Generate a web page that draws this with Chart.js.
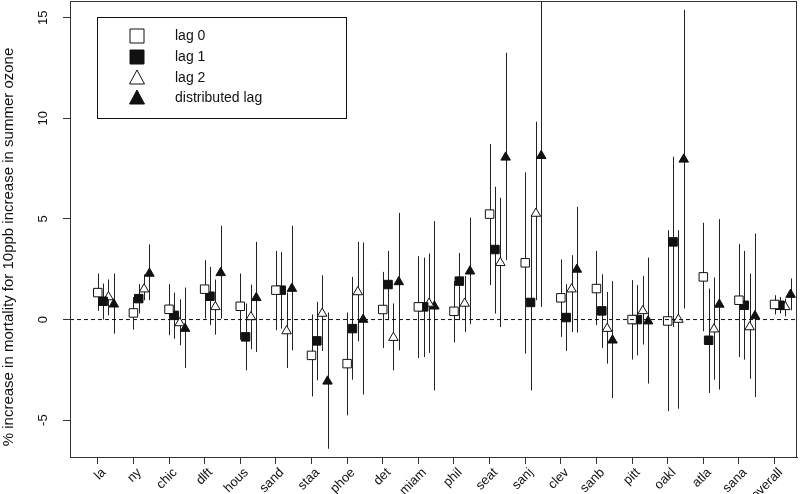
<!DOCTYPE html>
<html>
<head>
<meta charset="utf-8">
<script src="https://cdn.jsdelivr.net/npm/chart.js@4"></script>
<style>
  html, body { margin: 0; padding: 0; background: #fff; }
  #wrap { width: 800px; height: 494px; }
</style>
</head>
<body>
<div id="wrap"><canvas id="chart" width="800" height="494"></canvas></div>
<script>
const cities = ['la','ny','chic','dlft','hous','sand','staa','phoe','det','miam','phil','seat','sanj','clev','sanb','pitt','oakl','atla','sana','overall'];
const yTicks = [-5, 0, 5, 10, 15];

// estimates and 95% intervals
const lag0   = [1.34, 0.33, 0.51, 1.51, 0.66, 1.46, -1.78, -2.19, 0.50, 0.63, 0.41, 5.24, 2.82, 1.08, 1.54, 0.00, -0.07, 2.12, 0.96, 0.75];
const lag0Lo = [0.43, -0.50, -0.78, 0.05, -1.00, -0.53, -3.82, -4.76, -1.41, -1.91, -1.14, 1.71, -1.69, -0.86, -0.28, -1.99, -4.55, -0.58, -1.86, 0.25];
const lag0Hi = [2.29, 1.12, 1.76, 2.95, 2.29, 3.41, 0.25, 0.35, 2.37, 3.15, 1.91, 8.72, 7.31, 2.99, 3.41, 1.96, 4.44, 4.81, 3.75, 1.21];

const lag1   = [0.91, 1.04, 0.21, 1.16, -0.86, 1.46, -1.06, -0.45, 1.74, 0.63, 1.91, 3.48, 0.85, 0.10, 0.43, 0.00, 3.86, -1.03, 0.71, 0.71];
const lag1Lo = [0.00, 0.30, -0.95, -0.28, -2.52, -0.45, -3.02, -2.99, -0.03, -1.86, -0.03, 0.30, -3.52, -1.56, -1.41, -1.78, -0.37, -3.65, -1.99, 0.30];
const lag1Hi = [1.79, 1.76, 1.34, 2.62, 0.80, 3.36, 0.88, 2.12, 3.41, 3.08, 3.31, 6.60, 5.19, 1.76, 2.25, 1.71, 8.09, 1.54, 3.41, 1.12];

const lag2   = [1.12, 1.51, -0.17, 0.63, 0.13, -0.57, 0.30, 1.37, -0.90, 0.80, 0.80, 2.82, 5.27, 1.51, -0.45, 0.43, 0.00, -0.48, -0.37, 0.63];
const lag2Lo = [0.21, 0.96, -1.28, -0.75, -1.48, -2.41, -1.56, -1.08, -2.52, -1.66, -0.62, -0.37, 0.96, -0.62, -2.19, -1.24, -4.43, -2.99, -2.94, 0.16];
const lag2Hi = [1.99, 2.24, 1.01, 1.99, 1.74, 1.34, 2.20, 3.86, 0.80, 3.28, 2.17, 6.05, 9.83, 3.20, 1.37, 2.17, 4.44, 2.09, 2.29, 1.04];

const dist   = [0.76, 2.29, -0.45, 2.32, 1.08, 1.54, -3.07, 0.00, 1.87, 0.66, 2.40, 8.06, 8.14, 2.49, -1.03, -0.08, 7.96, 0.75, 0.18, 1.24];
const distLo = [-0.70, 0.96, -2.41, 0.05, -1.61, -1.53, -6.42, -3.73, -1.53, -3.52, -0.23, 2.95, 0.63, -0.65, -3.90, -3.18, 0.55, -3.48, -3.85, 0.46];
const distHi = [2.29, 3.73, 1.59, 4.66, 3.86, 4.66, 0.35, 3.83, 5.30, 4.89, 5.07, 13.26, 16.0, 5.60, 1.91, 3.08, 15.39, 4.99, 4.28, 2.04];

const FONT = '"Liberation Sans", Arial, Helvetica, sans-serif';
const INK = '#111';
const X_MIN = 0.22, X_MAX = 20.63;

const series = [
  {label: 'lag 0', est: lag0, lo: lag0Lo, hi: lag0Hi, style: 'rect', fill: '#fff', r: 6, off: 0},
  {label: 'lag 1', est: lag1, lo: lag1Lo, hi: lag1Hi, style: 'rect', fill: INK, r: 6, off: 0.15},
  {label: 'lag 2', est: lag2, lo: lag2Lo, hi: lag2Hi, style: 'triangle', fill: '#fff', r: 5.5, off: 0.30},
  {label: 'distributed lag', est: dist, lo: distLo, hi: distHi, style: 'triangle', fill: INK, r: 5.5, off: 0.45}
];

const datasets = series.map(s => ({
  label: s.label,
  data: s.est.map((v, i) => ({x: i + 1 + s.off, y: v})),
  pointStyle: s.style,
  pointRadius: s.r,
  pointHoverRadius: s.r,
  pointBackgroundColor: s.fill,
  pointBorderColor: INK,
  pointBorderWidth: 1,
  showLine: false,
  lo: s.lo,
  hi: s.hi
}));

// dashed zero line
datasets.unshift({
  label: 'zero',
  data: [{x: X_MIN, y: 0}, {x: X_MAX, y: 0}],
  showLine: true,
  borderColor: INK,
  borderWidth: 1,
  borderDash: [4, 3],
  pointRadius: 0
});

const errorBars = {
  id: 'errorBars',
  beforeDatasetsDraw(chart) {
    const {ctx, chartArea: a, scales: {x, y}} = chart;
    ctx.save();
    ctx.beginPath();
    ctx.rect(a.left, a.top, a.right - a.left, a.bottom - a.top);
    ctx.clip();
    ctx.strokeStyle = '#222';
    ctx.lineWidth = 1;
    chart.data.datasets.forEach(ds => {
      if (!ds.lo) return;
      ds.data.forEach((p, i) => {
        const px = Math.round(x.getPixelForValue(p.x)) + 0.5;
        ctx.beginPath();
        ctx.moveTo(px, y.getPixelForValue(ds.hi[i]));
        ctx.lineTo(px, y.getPixelForValue(ds.lo[i]));
        ctx.stroke();
      });
    });
    ctx.restore();
  }
};

const frame = {
  id: 'frame',
  afterDraw(chart) {
    const {ctx, chartArea: a, scales: {y}} = chart;
    ctx.save();
    ctx.strokeStyle = '#333';
    ctx.lineWidth = 1;
    ctx.strokeRect(a.left + 0.5, a.top + 0.5, a.right - a.left - 1, a.bottom - a.top);

    // y tick labels, R style (parallel to axis)
    ctx.fillStyle = INK;
    ctx.font = '13px ' + FONT;
    ctx.textAlign = 'center';
    ctx.textBaseline = 'middle';
    yTicks.forEach(v => {
      ctx.save();
      ctx.translate(43, y.getPixelForValue(v));
      ctx.rotate(-Math.PI / 2);
      ctx.fillText(String(v), 0, 0);
      ctx.restore();
    });

    // axis title
    ctx.save();
    ctx.font = '15px ' + FONT;
    ctx.translate(9, 247);
    ctx.rotate(-Math.PI / 2);
    ctx.fillText('% increase in mortality for 10ppb increase in summer ozone', 0, 0);
    ctx.restore();

    // legend box
    ctx.strokeStyle = INK;
    ctx.strokeRect(97.5, 17.5, 249, 101);
    ctx.font = '14px ' + FONT;
    ctx.textAlign = 'left';
    const rows = [36, 57, 78, 98];
    series.forEach((s, k) => {
      const cx = 137, cy = rows[k];
      ctx.fillStyle = s.fill;
      ctx.strokeStyle = INK;
      ctx.beginPath();
      if (s.style === 'rect') {
        ctx.rect(cx - 7, cy - 7, 14, 14);
      } else {
        ctx.moveTo(cx, cy - 8);
        ctx.lineTo(cx + 7.5, cy + 6);
        ctx.lineTo(cx - 7.5, cy + 6);
        ctx.closePath();
      }
      ctx.fill();
      ctx.stroke();
      ctx.fillStyle = INK;
      ctx.fillText(s.label, 175, cy);
    });
    ctx.restore();
  }
};

new Chart(document.getElementById('chart'), {
  type: 'scatter',
  data: {datasets},
  options: {
    responsive: false,
    animation: false,
    layout: {autoPadding: false, padding: {top: 1, right: 3, left: 0, bottom: 0}},
    plugins: {legend: {display: false}, tooltip: {enabled: false}},
    scales: {
      x: {
        type: 'linear',
        min: X_MIN,
        max: X_MAX,
        afterBuildTicks: s => { s.ticks = cities.map((c, i) => ({value: i + 1})); },
        afterFit: s => { s.height = 37; },
        grid: {display: true, drawOnChartArea: false, drawTicks: true, tickLength: 7, color: '#333'},
        border: {display: true, color: '#333'},
        ticks: {
          autoSkip: false,
          minRotation: 45,
          maxRotation: 45,
          padding: 1,
          labelOffset: 6,
          color: INK,
          font: {family: FONT, size: 13},
          callback: v => cities[v - 1]
        }
      },
      y: {
        type: 'linear',
        min: -6.83,
        max: 15.83,
        afterBuildTicks: s => { s.ticks = yTicks.map(v => ({value: v})); },
        afterFit: s => { s.width = 70; },
        grid: {display: true, drawOnChartArea: false, drawTicks: true, tickLength: 7, color: '#333'},
        border: {display: true, color: '#333'},
        ticks: {display: false}
      }
    }
  },
  plugins: [errorBars, frame]
});
</script>
</body>
</html>
